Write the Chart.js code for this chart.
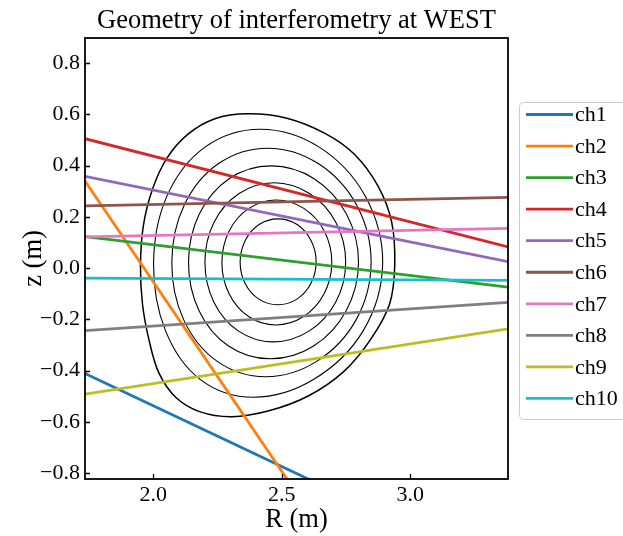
<!DOCTYPE html>
<html>
<head>
<meta charset="utf-8">
<script src="https://cdn.jsdelivr.net/npm/chart.js@4.4.1/dist/chart.umd.min.js"></script>
<style>
  html, body { margin: 0; padding: 0; background: #ffffff; }
  #wrap { width: 623px; height: 536px; }
</style>
</head>
<body>
<div id="wrap"><canvas id="c" width="623" height="536"></canvas></div>
<script>
// Interferometer lines of sight, given by their two end points (R, z) in metres
const channels = ['ch1', 'ch2', 'ch3', 'ch4', 'ch5', 'ch6', 'ch7', 'ch8', 'ch9', 'ch10'];
const chordR1 = [1.734, 1.734, 1.734, 1.734, 1.734, 1.734, 1.734, 1.734, 1.734, 1.734];
const chordZ1 = [-0.411, 0.340, 0.123, 0.505, 0.358, 0.243, 0.122, -0.244, -0.492, -0.039];
const chordR2 = [3.381, 3.381, 3.381, 3.381, 3.381, 3.381, 3.381, 3.381, 3.381, 3.381];
const chordZ2 = [-1.192, -2.096, -0.074, 0.083, 0.025, 0.276, 0.155, -0.134, -0.237, -0.048];
const chordColors = ['#1f77b4', '#ff7f0e', '#2ca02c', '#d62728', '#9467bd',
                     '#8c564b', '#e377c2', '#7f7f7f', '#bcbd22', '#17becf'];

// Magnetic flux surfaces, outermost (separatrix) first: points taken around each closed contour
const surfaceR = [
  [2.940, 2.928, 2.875, 2.782, 2.670, 2.520, 2.368, 2.240, 2.134, 2.053, 1.996, 1.961,
   1.950, 1.958, 1.984, 2.022, 2.088, 2.180, 2.305, 2.450, 2.605, 2.740, 2.845, 2.920],
  [2.893, 2.825, 2.646, 2.416, 2.201, 2.053, 2.001, 2.047, 2.182, 2.389, 2.625, 2.818],
  [2.848, 2.792, 2.642, 2.445, 2.254, 2.120, 2.072, 2.118, 2.249, 2.437, 2.636, 2.790],
  [2.799, 2.752, 2.626, 2.458, 2.295, 2.179, 2.137, 2.178, 2.293, 2.455, 2.624, 2.751],
  [2.749, 2.711, 2.608, 2.470, 2.334, 2.236, 2.201, 2.236, 2.332, 2.467, 2.606, 2.710],
  [2.695, 2.666, 2.586, 2.479, 2.372, 2.295, 2.267, 2.295, 2.371, 2.477, 2.585, 2.665],
  [2.634, 2.614, 2.560, 2.486, 2.412, 2.358, 2.338, 2.357, 2.411, 2.485, 2.559, 2.614]
];
const surfaceZ = [
  [0.011, 0.180, 0.320, 0.445, 0.525, 0.585, 0.602, 0.583, 0.522, 0.429, 0.306, 0.164,
   0.011, -0.142, -0.284, -0.410, -0.505, -0.560, -0.580, -0.557, -0.498, -0.405, -0.280, -0.140],
  [0.019, 0.281, 0.472, 0.542, 0.472, 0.281, 0.019, -0.243, -0.434, -0.504, -0.434, -0.243],
  [0.022, 0.245, 0.408, 0.468, 0.408, 0.245, 0.022, -0.201, -0.364, -0.424, -0.364, -0.201],
  [0.023, 0.211, 0.349, 0.399, 0.349, 0.211, 0.023, -0.166, -0.304, -0.354, -0.304, -0.166],
  [0.023, 0.178, 0.291, 0.333, 0.291, 0.178, 0.023, -0.133, -0.246, -0.288, -0.246, -0.133],
  [0.022, 0.144, 0.233, 0.266, 0.233, 0.144, 0.022, -0.100, -0.189, -0.222, -0.189, -0.100],
  [0.025, 0.108, 0.170, 0.192, 0.170, 0.108, 0.025, -0.059, -0.121, -0.143, -0.121, -0.059]
];

// Axes
const xRange = [1.734, 3.381];
const yRange = [-0.823, 0.898];
const xTicks = [2.0, 2.5, 3.0];
const yTicks = [-0.8, -0.6, -0.4, -0.2, 0.0, 0.2, 0.4, 0.6, 0.8];
const titleText = 'Geometry of interferometry at WEST';
const xLabel = 'R (m)';
const yLabel = 'z (m)';

const FONT = '"Liberation Serif", "Times New Roman", Times, serif';

// Closed contours: wrap one point on each side so the spline is smooth at the seam,
// and hide the two extra end segments.
const surfaceSets = surfaceR.map((rs, i) => {
  const pts = rs.map((r, k) => ({ x: r, y: surfaceZ[i][k] }));
  const n = pts.length;
  const data = [pts[n - 1], ...pts, pts[0], pts[1]];
  const last = data.length - 1;
  return {
    label: 'surface' + i,
    isSurface: true,
    data,
    showLine: true,
    borderColor: '#000000',
    borderWidth: i === 0 ? 1.5 : 1.1,
    tension: 0.35,
    pointRadius: 0,
    clip: 0,
    order: 100,
    segment: {
      borderColor: c => (c.p0DataIndex === 0 || c.p1DataIndex === last) ? 'rgba(0,0,0,0)' : '#000000'
    }
  };
});

const chordSets = channels.map((name, i) => ({
  label: name,
  data: [{ x: chordR1[i], y: chordZ1[i] }, { x: chordR2[i], y: chordZ2[i] }],
  showLine: true,
  borderColor: chordColors[i],
  backgroundColor: chordColors[i],
  borderWidth: 2.8,
  pointRadius: 0,
  clip: 0,
  order: 10 - i
}));

const frameAndText = {
  id: 'frameAndText',
  afterDraw(chart) {
    const ctx = chart.ctx;
    const a = chart.chartArea;
    const xs = chart.scales.x, ys = chart.scales.y;
    ctx.save();

    // inward tick marks
    ctx.strokeStyle = '#000';
    ctx.lineWidth = 1.3;
    ctx.beginPath();
    xTicks.forEach(v => {
      const p = Math.round(xs.getPixelForValue(v)) + 0.5;
      ctx.moveTo(p, a.bottom); ctx.lineTo(p, a.bottom - 5);
    });
    yTicks.forEach(v => {
      const p = Math.round(ys.getPixelForValue(v)) + 0.5;
      ctx.moveTo(a.left, p); ctx.lineTo(a.left + 5, p);
    });
    ctx.stroke();

    // axes frame
    ctx.lineWidth = 1.8;
    ctx.strokeRect(a.left, a.top, a.right - a.left, a.bottom - a.top);

    // title and axis labels
    ctx.fillStyle = '#000';
    ctx.textAlign = 'center';
    ctx.textBaseline = 'alphabetic';
    ctx.font = '26.5px ' + FONT;
    const cx = (a.left + a.right) / 2;
    ctx.fillText(titleText, cx, 28);
    ctx.fillText(xLabel, cx, 527);
    ctx.save();
    ctx.translate(41, (a.top + a.bottom) / 2);
    ctx.rotate(-Math.PI / 2);
    ctx.fillText(yLabel, 0, 0);
    ctx.restore();

    // legend
    const lx0 = 519.5, ly0 = 102.5, lx1 = 650, ly1 = 419.5, rad = 4;
    ctx.beginPath();
    ctx.moveTo(lx0 + rad, ly0);
    ctx.lineTo(lx1, ly0);
    ctx.lineTo(lx1, ly1);
    ctx.lineTo(lx0 + rad, ly1);
    ctx.quadraticCurveTo(lx0, ly1, lx0, ly1 - rad);
    ctx.lineTo(lx0, ly0 + rad);
    ctx.quadraticCurveTo(lx0, ly0, lx0 + rad, ly0);
    ctx.closePath();
    ctx.fillStyle = 'rgba(255,255,255,0.8)';
    ctx.fill();
    ctx.strokeStyle = '#cccccc';
    ctx.lineWidth = 1;
    ctx.stroke();

    ctx.font = '22px ' + FONT;
    ctx.textAlign = 'left';
    ctx.textBaseline = 'middle';
    chart.data.datasets.filter(d => !d.isSurface).forEach((d, i) => {
      const y = 114.5 + i * 31.55;
      ctx.strokeStyle = d.borderColor;
      ctx.lineWidth = 2.8;
      ctx.beginPath();
      ctx.moveTo(526, y); ctx.lineTo(573, y);
      ctx.stroke();
      ctx.fillStyle = '#000';
      ctx.fillText(d.label, 575, y + 1);
    });
    ctx.restore();
  }
};

new Chart(document.getElementById('c'), {
  type: 'scatter',
  data: { datasets: [...surfaceSets, ...chordSets] },
  options: {
    responsive: false,
    animation: false,
    events: [],
    layout: { padding: { left: 0, top: 38, right: 115, bottom: 0 } },
    plugins: {
      legend: { display: false },
      title: { display: false },
      tooltip: { enabled: false }
    },
    scales: {
      x: {
        type: 'linear',
        min: xRange[0], max: xRange[1],
        grid: { display: false, drawTicks: false },
        border: { display: false },
        ticks: {
          padding: 3,
          color: '#000',
          font: { family: FONT, size: 22 },
          maxRotation: 0,
          callback: v => Number(v).toFixed(1)
        },
        afterBuildTicks: s => { s.ticks = xTicks.map(v => ({ value: v })); },
        afterFit: s => { s.height = 57; }
      },
      y: {
        type: 'linear',
        min: yRange[0], max: yRange[1],
        grid: { display: false, drawTicks: false },
        border: { display: false },
        ticks: {
          padding: 5,
          color: '#000',
          font: { family: FONT, size: 22 },
          callback: v => (v < 0 ? '\u2212' : '') + Math.abs(v).toFixed(1)
        },
        afterBuildTicks: s => { s.ticks = yTicks.map(v => ({ value: v })); },
        afterFit: s => { s.width = 85; }
      }
    }
  },
  plugins: [frameAndText]
});
</script>
</body>
</html>
